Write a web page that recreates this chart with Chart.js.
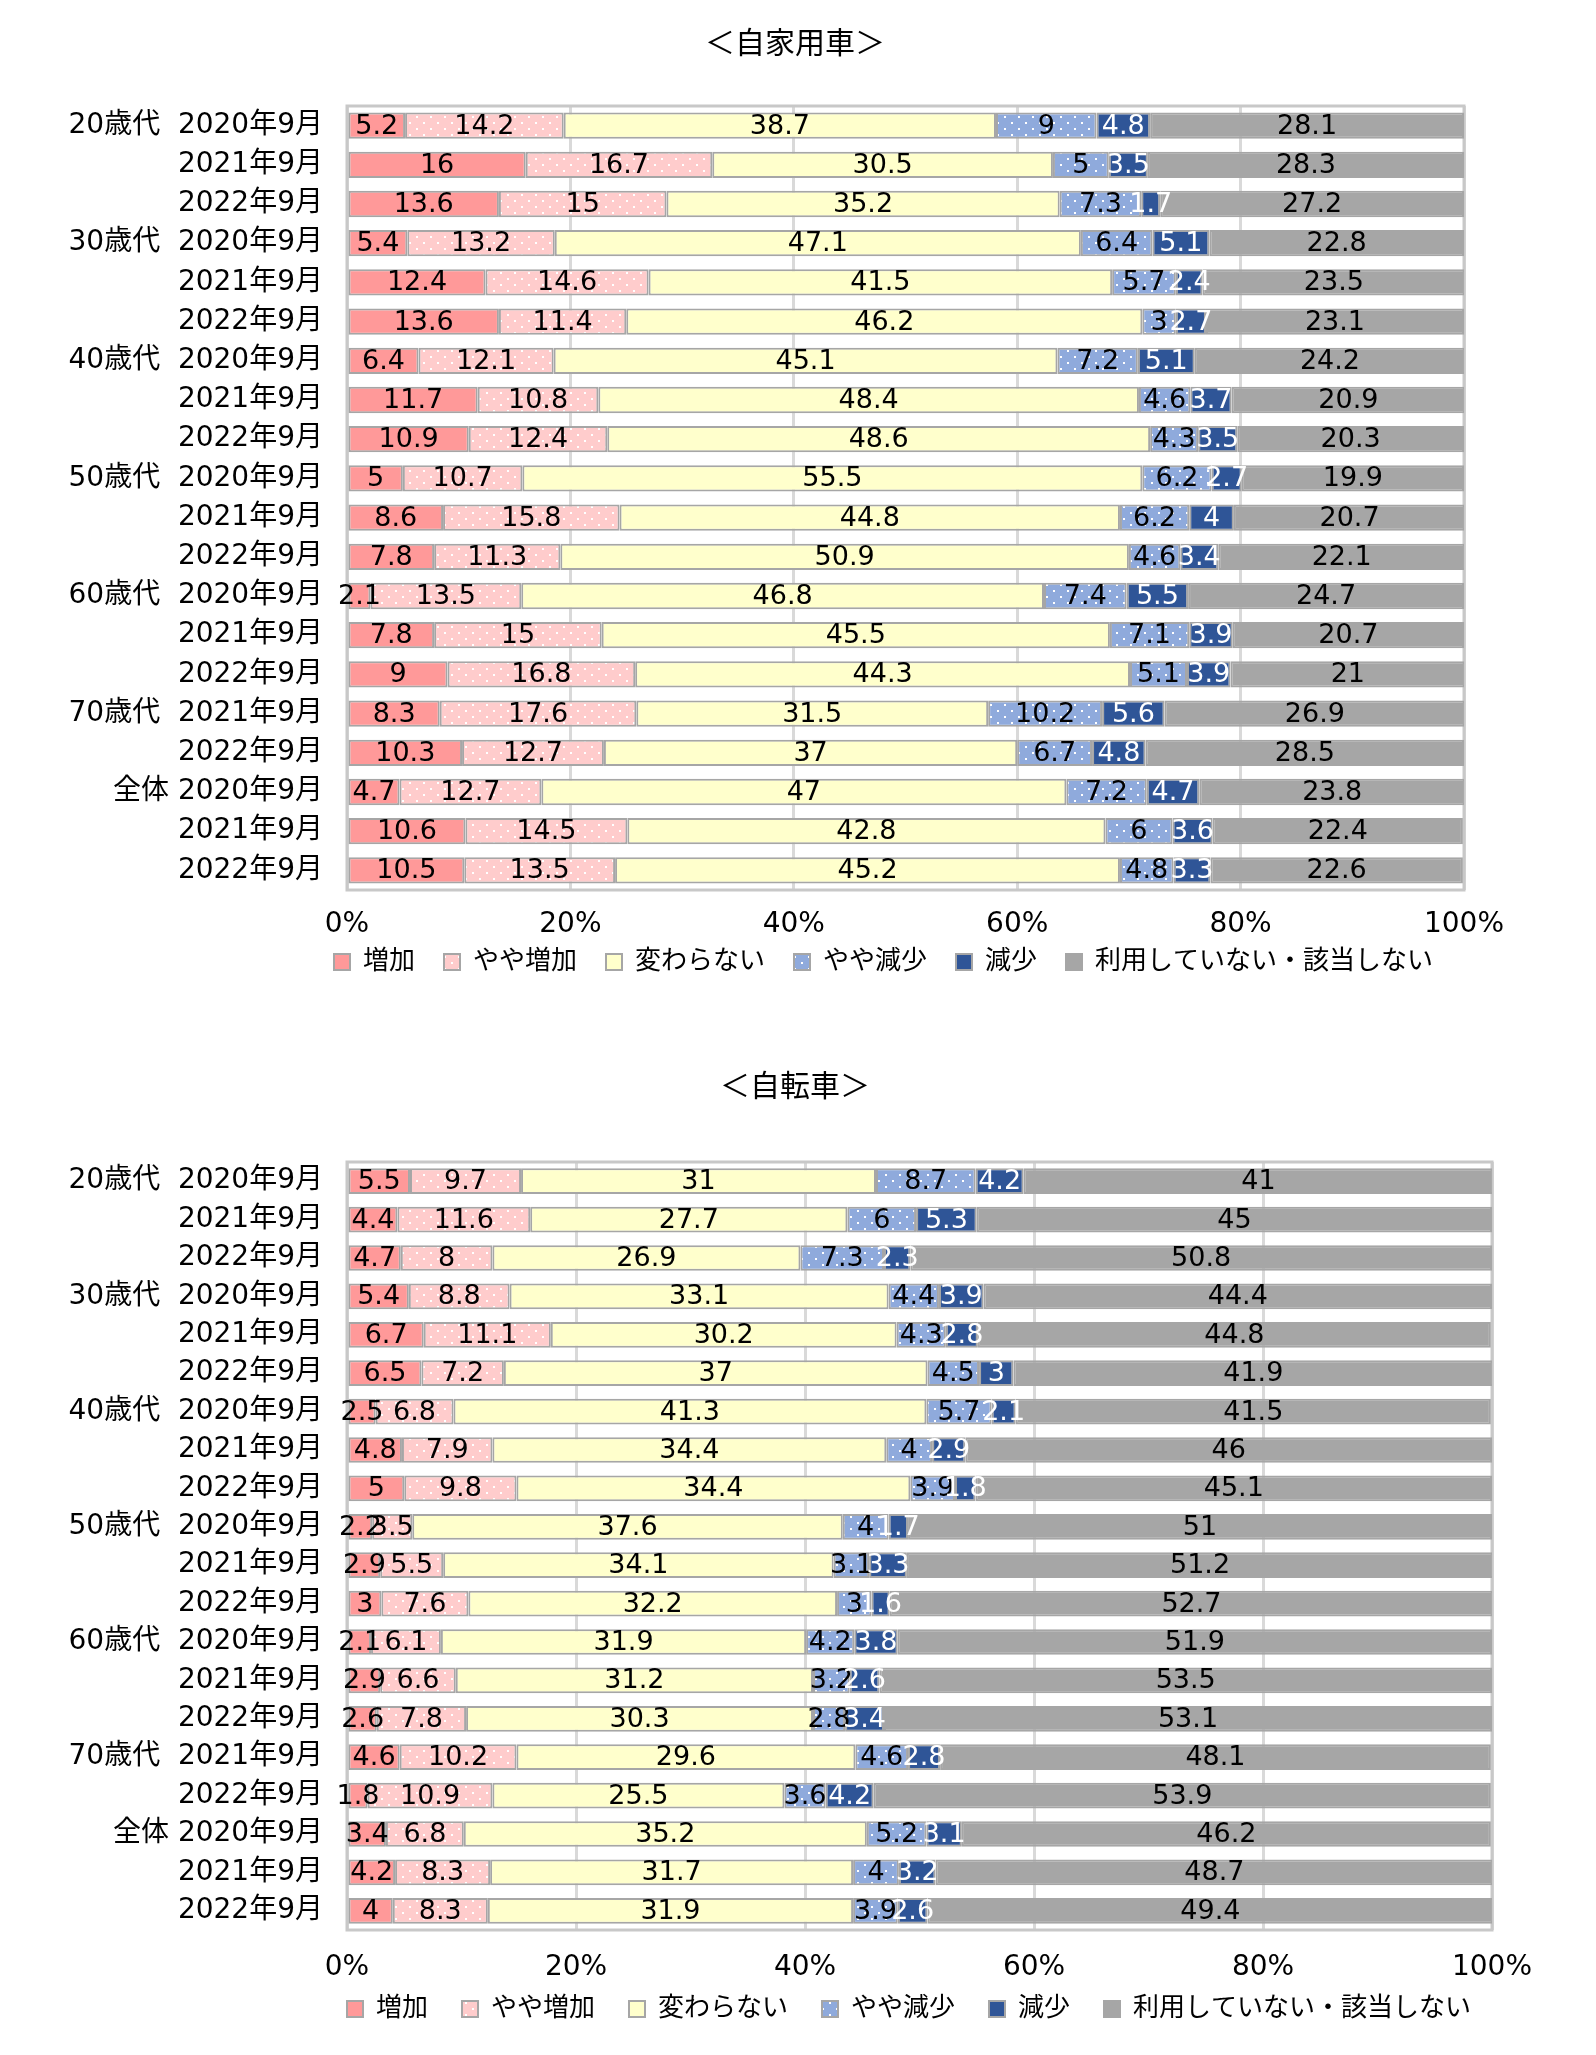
<!DOCTYPE html>
<html lang="ja">
<head>
<meta charset="utf-8">
<title>自家用車・自転車の利用頻度の変化</title>
<script src="https://cdn.jsdelivr.net/npm/chart.js@4.4.1/dist/chart.umd.min.js"></script>
<style>
  html, body { margin: 0; padding: 0; background: #fff; overflow: hidden; }
  #wrap { position: relative; width: 1596px; height: 2055px; }
  #car-box { position: absolute; left: 0; top: 0; }
  #bike-box { position: absolute; left: 0; top: 1040px; }
  canvas { display: block; }
</style>
</head>
<body>
<div id="wrap">
  <div id="car-box"><canvas id="car-chart" width="1596" height="1013"></canvas></div>
  <div id="bike-box"><canvas id="bike-chart" width="1596" height="1015"></canvas></div>
</div>
<script>
const rowLabels = [
    '20歳代  2020年9月', '2021年9月', '2022年9月',
    '30歳代  2020年9月', '2021年9月', '2022年9月',
    '40歳代  2020年9月', '2021年9月', '2022年9月',
    '50歳代  2020年9月', '2021年9月', '2022年9月',
    '60歳代  2020年9月', '2021年9月', '2022年9月',
    '70歳代  2021年9月', '2022年9月',
    '全体 2020年9月', '2021年9月', '2022年9月'
];
const seriesNames = ['増加', 'やや増加', '変わらない', 'やや減少', '減少', '利用していない・該当しない'];
const xTickLabels = ['0%', '20%', '40%', '60%', '80%', '100%'];

// 自家用車
const carUp       = [5.2, 16, 13.6, 5.4, 12.4, 13.6, 6.4, 11.7, 10.9, 5, 8.6, 7.8, 2.1, 7.8, 9, 8.3, 10.3, 4.7, 10.6, 10.5];
const carSomeUp   = [14.2, 16.7, 15, 13.2, 14.6, 11.4, 12.1, 10.8, 12.4, 10.7, 15.8, 11.3, 13.5, 15, 16.8, 17.6, 12.7, 12.7, 14.5, 13.5];
const carSame     = [38.7, 30.5, 35.2, 47.1, 41.5, 46.2, 45.1, 48.4, 48.6, 55.5, 44.8, 50.9, 46.8, 45.5, 44.3, 31.5, 37, 47, 42.8, 45.2];
const carSomeDown = [9, 5, 7.3, 6.4, 5.7, 3, 7.2, 4.6, 4.3, 6.2, 6.2, 4.6, 7.4, 7.1, 5.1, 10.2, 6.7, 7.2, 6, 4.8];
const carDown     = [4.8, 3.5, 1.7, 5.1, 2.4, 2.7, 5.1, 3.7, 3.5, 2.7, 4, 3.4, 5.5, 3.9, 3.9, 5.6, 4.8, 4.7, 3.6, 3.3];
const carNone     = [28.1, 28.3, 27.2, 22.8, 23.5, 23.1, 24.2, 20.9, 20.3, 19.9, 20.7, 22.1, 24.7, 20.7, 21, 26.9, 28.5, 23.8, 22.4, 22.6];

// 自転車
const bikeUp       = [5.5, 4.4, 4.7, 5.4, 6.7, 6.5, 2.5, 4.8, 5, 2.2, 2.9, 3, 2.1, 2.9, 2.6, 4.6, 1.8, 3.4, 4.2, 4];
const bikeSomeUp   = [9.7, 11.6, 8, 8.8, 11.1, 7.2, 6.8, 7.9, 9.8, 3.5, 5.5, 7.6, 6.1, 6.6, 7.8, 10.2, 10.9, 6.8, 8.3, 8.3];
const bikeSame     = [31, 27.7, 26.9, 33.1, 30.2, 37, 41.3, 34.4, 34.4, 37.6, 34.1, 32.2, 31.9, 31.2, 30.3, 29.6, 25.5, 35.2, 31.7, 31.9];
const bikeSomeDown = [8.7, 6, 7.3, 4.4, 4.3, 4.5, 5.7, 4, 3.9, 4, 3.1, 3, 4.2, 3.2, 2.8, 4.6, 3.6, 5.2, 4, 3.9];
const bikeDown     = [4.2, 5.3, 2.3, 3.9, 2.8, 3, 2.1, 2.9, 1.8, 1.7, 3.3, 1.6, 3.8, 2.6, 3.4, 2.8, 4.2, 3.1, 3.2, 2.6];
const bikeNone     = [41, 45, 50.8, 44.4, 44.8, 41.9, 41.5, 46, 45.1, 51, 51.2, 52.7, 51.9, 53.5, 53.1, 48.1, 53.9, 46.2, 48.7, 49.4];

const FONT = "'DejaVu Sans', 'Noto Sans CJK JP', sans-serif";
Chart.defaults.font.family = FONT;
Chart.defaults.color = '#000';

// 白い点の塗りパターン
function dotted(bg) {
    const c = document.createElement('canvas');
    c.width = 14;
    c.height = 12;
    const g = c.getContext('2d');
    g.fillStyle = bg;
    g.fillRect(0, 0, 14, 12);
    g.fillStyle = '#ffffff';
    g.fillRect(3, 2, 2, 2);
    g.fillRect(10, 8, 2, 2);
    return g.createPattern(c, 'repeat');
}

const segColors = ['#ff9999', dotted('#ffcccc'), '#ffffcc', dotted('#8faadc'), '#2f5597', '#a6a6a6'];
const labelColors = ['#000', '#000', '#000', '#000', '#fff', '#000'];

// プロットエリアの枠
const frame = {
    id: 'frame',
    beforeDatasetsDraw(chart) {
        const {ctx, chartArea: a} = chart;
        ctx.save();
        ctx.strokeStyle = '#c8c8c8';
        ctx.lineWidth = 3;
        ctx.strokeRect(a.left, a.top, a.right - a.left, a.bottom - a.top);
        ctx.restore();
    }
};

// 各セグメントの中央に値を表示
const valueLabels = {
    id: 'valueLabels',
    afterDatasetsDraw(chart) {
        const ctx = chart.ctx;
        ctx.save();
        ctx.font = '27px ' + FONT;
        ctx.textAlign = 'center';
        ctx.textBaseline = 'middle';
        chart.data.datasets.forEach((ds, i) => {
            chart.getDatasetMeta(i).data.forEach((bar, j) => {
                const v = ds.data[j];
                if (v == null) return;
                const p = bar.getProps(['x', 'y', 'base'], true);
                ctx.fillStyle = labelColors[i];
                ctx.fillText(String(v), (p.x + p.base) / 2, p.y + 1);
            });
        });
        ctx.restore();
    }
};

function makeChart(id, title, values, geo) {
    // タイトルと凡例の位置を調整
    const placeBlocks = {
        id: 'placeBlocks',
        afterLayout(chart) {
            const t = chart.titleBlock;
            t.left = 0;
            t.right = geo.titleX * 2;
            t.width = t.right;
            const lg = chart.legend;
            lg.left = geo.legendX - geo.legendGap;
            lg.right = chart.width;
            lg.width = lg.right - lg.left;
            const h = lg.height;
            lg.top = geo.legendY - geo.legendGap - 13;
            lg.bottom = lg.top + h;
        }
    };

    return new Chart(document.getElementById(id), {
        type: 'bar',
        data: {
            labels: rowLabels,
            datasets: seriesNames.map((name, i) => ({
                label: name,
                data: values[i],
                backgroundColor: segColors[i],
                borderColor: '#a6a6a6',
                borderWidth: 2,
                borderSkipped: false,
                categoryPercentage: 1,
                barPercentage: 0.67
            }))
        },
        options: {
            indexAxis: 'y',
            responsive: false,
            animation: false,
            layout: { padding: { left: 0, right: geo.right, top: 0, bottom: 0 } },
            scales: {
                x: {
                    stacked: true,
                    min: 0,
                    max: 100,
                    ticks: {
                        stepSize: 20,
                        padding: geo.tickPad,
                        font: { size: 28 },
                        callback: v => xTickLabels[v / 20]
                    },
                    grid: { color: '#d9d9d9', lineWidth: 3, drawTicks: false },
                    border: { display: false },
                    afterFit: s => { s.height = geo.xHeight; }
                },
                y: {
                    stacked: true,
                    ticks: { padding: 24, font: { size: 28 }, autoSkip: false },
                    grid: { display: false, drawTicks: false },
                    border: { display: false },
                    afterFit: s => { s.width = 347; }
                }
            },
            plugins: {
                title: {
                    display: true,
                    text: title,
                    color: '#000',
                    font: { size: 30, weight: 'normal' },
                    padding: { top: geo.titleTop, bottom: geo.titleBottom }
                },
                legend: {
                    position: 'bottom',
                    align: 'start',
                    labels: {
                        boxWidth: 16,
                        boxHeight: 16,
                        padding: geo.legendGap,
                        font: { size: 26 }
                    }
                },
                tooltip: { enabled: false }
            }
        },
        plugins: [frame, valueLabels, placeBlocks]
    });
}

makeChart('car-chart', '＜自家用車＞',
    [carUp, carSomeUp, carSame, carSomeDown, carDown, carNone],
    { right: 132, titleX: 795, titleTop: 27, titleBottom: 43, tickPad: 18, xHeight: 58,
      legendX: 334, legendY: 962, legendGap: 29 });

makeChart('bike-chart', '＜自転車＞',
    [bikeUp, bikeSomeUp, bikeSame, bikeSomeDown, bikeDown, bikeNone],
    { right: 104, titleX: 795, titleTop: 30, titleBottom: 56, tickPad: 21, xHeight: 55,
      legendX: 347, legendY: 969, legendGap: 34 });
</script>
</body>
</html>
